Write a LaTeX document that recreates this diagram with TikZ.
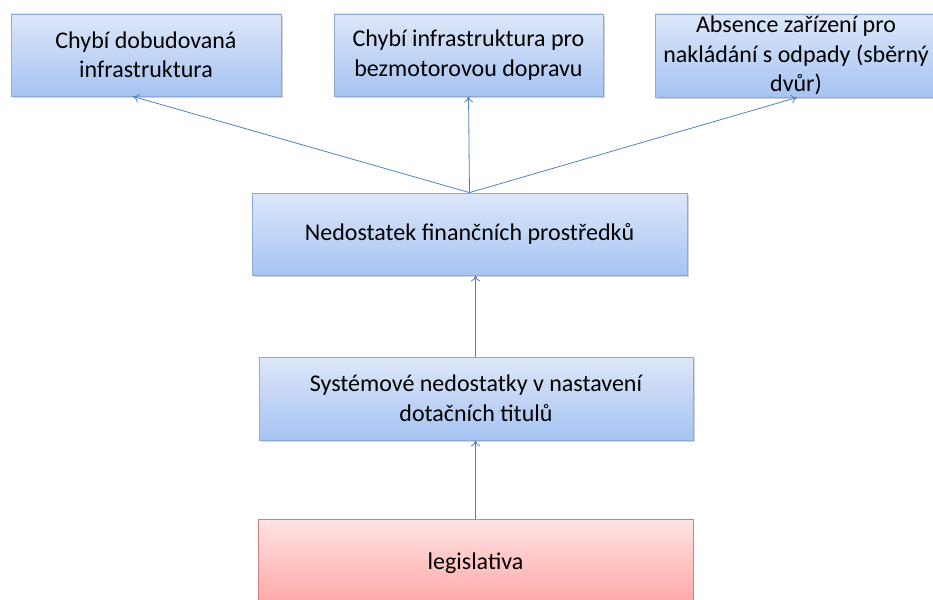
\documentclass[tikz,border=0pt]{standalone}
\usepackage{fontspec}
\setmainfont{Carlito}
\usetikzlibrary{shadows,arrows.meta}
\definecolor{bluetop}{HTML}{DDE7F9}
\definecolor{bluebot}{HTML}{A6C3F2}
\definecolor{blueline}{HTML}{8DA9DA}
\definecolor{redtop}{HTML}{FFE3E3}
\definecolor{redbot}{HTML}{FFA5A5}
\definecolor{redline}{HTML}{DC7C7C}
\definecolor{arrowc}{HTML}{4F81BD}
\tikzset{
  bluebox/.style={rectangle, draw=blueline, line width=0.8pt, top color=bluetop, bottom color=bluebot,
    drop shadow={shadow xshift=1.5pt, shadow yshift=-2pt, opacity=0.35},
    align=center, font=\fontsize{24}{29.5}\selectfont, inner sep=0pt},
  redbox/.style={rectangle, draw=redline, line width=0.8pt, top color=redtop, bottom color=redbot,
    align=center, font=\fontsize{24}{29.5}\selectfont, inner sep=0pt},
  conn/.style={draw=arrowc, line width=0.8pt, -{To[length=6pt,width=9pt]}}
}
\begin{document}
\begin{tikzpicture}[x=1pt,y=-1pt]
\useasboundingbox (0,0) rectangle (933,599);
\node[bluebox, minimum width=270pt, minimum height=82pt] (b1) at (146,55) {Chybí dobudovaná\\infrastruktura};
\node[bluebox, minimum width=269pt, minimum height=82pt] (b2) at (468.5,55) {Chybí infrastruktura pro\\bezmotorovou dopravu};
\node[bluebox, minimum width=282pt, minimum height=83pt] (b3) at (796,55.5) {Absence zařízení pro\\nakládání s odpady (sběrný\\dvůr)};
\node[bluebox, minimum width=435pt, minimum height=82pt] (fin) at (469.5,234) {Nedostatek finančních prostředků};
\node[bluebox, minimum width=434pt, minimum height=83pt] (sys) at (476,398.5) {Systémové nedostatky v nastavení\\dotačních titulů};
\node[redbox, minimum width=435pt, minimum height=88pt] (leg) at (475.5,563) {legislativa};
\coordinate (a1) at (133,96.5);
\coordinate (a3) at (797,97.5);
\draw[conn] (fin.north) -- (a1);
\draw[conn] (fin.north) -- (b2.south);
\draw[conn] (fin.north) -- (a3);
\draw[conn] (sys.north -| leg.north) -- (fin.south -| leg.north);
\draw[conn] (leg.north) -- (sys.south -| leg.north);
\end{tikzpicture}
\end{document}
